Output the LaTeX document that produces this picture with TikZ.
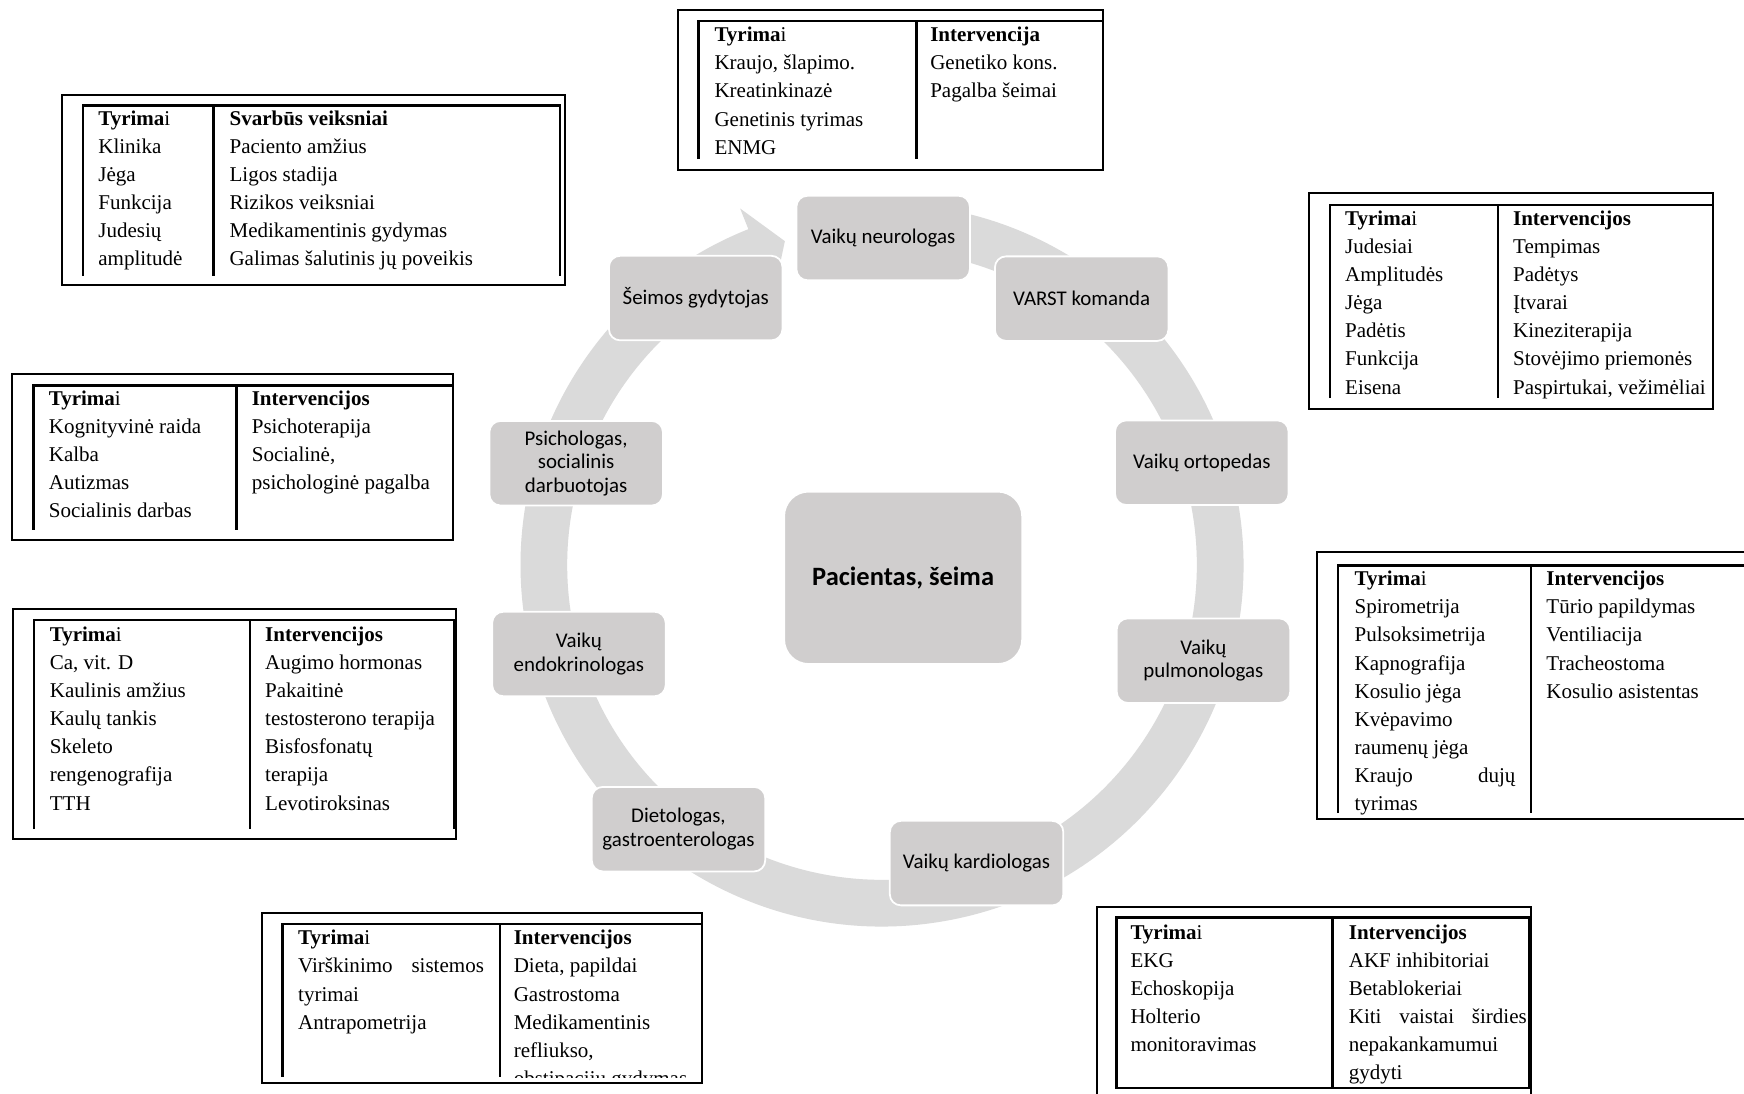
\documentclass[tikz,border=0pt]{standalone}
\usepackage{fontspec}
\setmainfont{Liberation Serif}
\newfontfamily\calfont{Carlito}
\usetikzlibrary{calc}
\definecolor{ringc}{RGB}{218,218,218}
\definecolor{boxc}{RGB}{208,206,206}
\newcommand\tabcol[4]{%
  \foreach \t [count=\i from 0] in {#4}{\node[cell] (#1-\i) at (#2,{#3+25.3*\i}) {\t};}}
\begin{document}
\begin{tikzpicture}[x=0.5pt,y=-0.5pt,
  cell/.style={anchor=base west,inner sep=0pt,font=\fontsize{9.45}{12}\selectfont},
  role/.style={rounded corners=5pt,fill=boxc,draw=white,line width=0.8pt,
    minimum width=78pt,minimum height=38pt,align=center,inner sep=2pt,
    font=\calfont\fontsize{9.4}{10.5}\selectfont},
  hub/.style={rounded corners=11pt,fill=boxc,draw=white,line width=0.8pt,
    minimum width=107pt,minimum height=77.5pt,align=center,
    font=\calfont\bfseries\fontsize{11.9}{14}\selectfont},
  outerln/.style={line width=0.9pt,black},
  innerln/.style={line width=1.1pt,black}]
\useasboundingbox (0,0) rectangle (1568,983);
\fill[white] (0,0) rectangle (1568,983);

% ring with arrow head
\coordinate (cen) at (793,508);
\fill[ringc] ($(cen)+(-100:325)$) arc[start angle=-100,end angle=248.3,radius=325]
  -- ($(cen)+(248.3:345)$) -- ($(cen)+(253.3:304)$) -- ($(cen)+(248.3:263)$)
  -- ($(cen)+(248.3:283)$) arc[start angle=248.3,end angle=-100,radius=283] -- cycle;

% circle nodes
\node[role] (neu) at (794,214) {Vaikų neurologas};
\node[role] (varst) at (972.5,268.5) {VARST komanda};
\node[role] (ort) at (1080.5,416) {Vaikų ortopedas};
\node[role] (pul) at (1082,594) {Vaikų\\pulmonologas};
\node[role] (kar) at (878,776) {Vaikų kardiologas};
\node[role] (die) at (610,745.5) {Dietologas,\\gastroenterologas};
\node[role] (endo) at (520.5,588) {Vaikų\\endokrinologas};
\node[role] (psi) at (518,416.5) {Psichologas,\\socialinis\\darbuotojas};
\node[role] (sei) at (625.5,268) {Šeimos gydytojas};
\node[hub] (pac) at (812,519.5) {Pacientas, šeima};

% table 1 (top)
\draw[outerln] (610,9) rectangle (992,153);
\draw[innerln] (628,143) -- (628,19) -- (992,19);
\draw[innerln] (824,19) -- (824,143);
\tabcol{a1}{642}{37.5}{{\textbf{Tyrima}i},{Kraujo, šlapimo.},Kreatinkinazė,Genetinis tyrimas,ENMG}
\tabcol{a2}{836}{37.5}{\textbf{Intervencija},Genetiko kons.,Pagalba šeimai}

% table 2 (top left)
\draw[outerln] (56,85) rectangle (508,256);
\draw[innerln] (74.5,248) -- (74.5,95) -- (503.5,95) -- (503.5,248);
\draw[innerln] (192,95) -- (192,248);
\tabcol{b1}{88}{112.5}{{\textbf{Tyrima}i},Klinika,Jėga,Funkcija,Judesių,amplitudė}
\tabcol{b2}{206}{112.5}{\textbf{Svarbūs veiksniai},Paciento amžius,Ligos stadija,Rizikos veiksniai,Medikamentinis gydymas,Galimas šalutinis jų poveikis}

% table 3 (right top)
\draw[outerln] (1177,173.5) rectangle (1540,367.5);
\draw[innerln] (1196,358) -- (1196,184.3) -- (1540,184.3);
\draw[innerln] (1347,184.3) -- (1347,358);
\tabcol{c1}{1209}{202.5}{{\textbf{Tyrima}i},Judesiai,Amplitudės,Jėga,Padėtis,Funkcija,Eisena}
\tabcol{c2}{1360}{202.5}{\textbf{Intervencijos},Tempimas,Padėtys,Įtvarai,Kineziterapija,Stovėjimo priemonės,{Paspirtukai, vežimėliai}}

% table 4 (left)
\draw[outerln] (11,336.5) rectangle (407,485.5);
\draw[innerln] (30,476.5) -- (30,346.8) -- (407,346.8);
\draw[innerln] (212.8,346.8) -- (212.8,476.5);
\tabcol{d1}{43.5}{364.5}{{\textbf{Tyrima}i},Kognityvinė raida,Kalba,Autizmas,Socialinis darbas}
\tabcol{d2}{226}{364.5}{\textbf{Intervencijos},Psichoterapija,{Socialinė,},psichologinė pagalba}

% table 5 (left lower)
\draw[outerln] (12,547.6) rectangle (410,754.4);
\draw[innerln] (30.6,745.4) -- (30.6,557.5) -- (408,557.5) -- (408,745.4);
\draw[innerln] (224.8,557.5) -- (224.8,745.4);
\tabcol{e1}{44.4}{576.5}{{\textbf{Tyrima}i},{Ca, vit. D},Kaulinis amžius,Kaulų tankis,Skeleto,rengenografija,TTH}
\tabcol{e2}{238}{576.5}{\textbf{Intervencijos},Augimo hormonas,Pakaitinė,testosterono terapija,Bisfosfonatų,terapija,Levotiroksinas}

% table 6 (right middle)
\draw[outerln] (1572,496.5) -- (1184,496.5) -- (1184,736.4) -- (1572,736.4);
\draw[innerln] (1203,731) -- (1203,508.6) -- (1572,508.6);
\draw[innerln] (1376.3,508.6) -- (1376.3,731);
\tabcol{f1}{1217.5}{526.5}{{\textbf{Tyrima}i},Spirometrija,Pulsoksimetrija,Kapnografija,Kosulio jėga,Kvėpavimo,raumenų jėga,{\makebox[72.3pt][l]{Kraujo\hfill dujų}},tyrimas}
\tabcol{f2}{1390}{526.5}{\textbf{Intervencijos},Tūrio papildymas,Ventiliacija,Tracheostoma,Kosulio asistentas}

% table 7 (bottom left)
\draw[outerln] (236,820.6) rectangle (631,974);
\draw[innerln] (253.8,968) -- (253.8,830.8) -- (631,830.8);
\draw[innerln] (449.6,830.8) -- (449.6,968);
\begin{scope}
\clip (0,0) rectangle (1568,969);
\tabcol{g1}{267.7}{849.5}{{\textbf{Tyrima}i},{\makebox[83.5pt][l]{Virškinimo\hfill sistemos}},tyrimai,Antrapometrija}
\tabcol{g2}{461.5}{849.5}{\textbf{Intervencijos},{Dieta, papildai},Gastrostoma,Medikamentinis,{refliukso,},obstipacijų gydymas}
\end{scope}

% table 8 (bottom right)
\draw[outerln] (986.6,990) -- (986.6,815.2) -- (1376.3,815.2) -- (1376.3,990);
\draw[innerln] (1004,825.1) rectangle (1375,978);
\draw[innerln] (1198.2,825.1) -- (1198.2,978);
\tabcol{h1}{1016}{844.5}{{\textbf{Tyrima}i},EKG,Echoskopija,Holterio,monitoravimas}
\tabcol{h2}{1212.3}{844.5}{\textbf{Intervencijos},AKF inhibitoriai,Betablokeriai,{\makebox[80pt][l]{Kiti\hfill vaistai\hfill širdies}},nepakankamumui,gydyti}
\end{tikzpicture}
\end{document}
